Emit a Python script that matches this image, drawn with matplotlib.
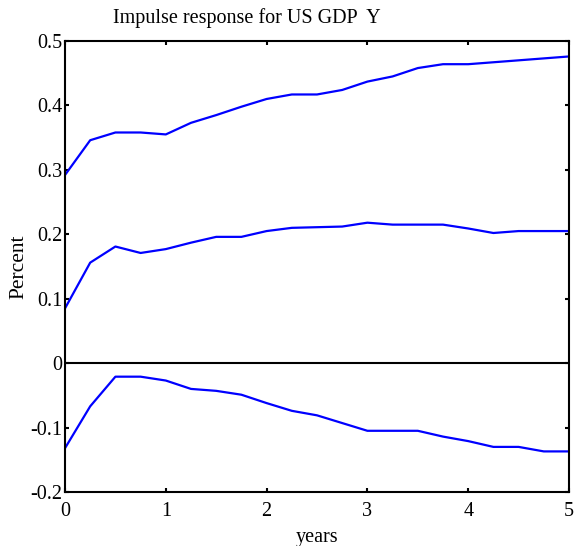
import numpy as np
import matplotlib
matplotlib.use("Agg")
import matplotlib.pyplot as plt

plt.rcParams['font.family'] = ['Liberation Serif', 'DejaVu Serif']
plt.rcParams['axes.unicode_minus'] = False

# quarterly horizon, years
years = [0, 0.25, 0.5, 0.75, 1, 1.25, 1.5, 1.75, 2, 2.25, 2.5,
         2.75, 3, 3.25, 3.5, 3.75, 4, 4.25, 4.5, 4.75, 5]

# upper band, point estimate, lower band
upper = [0.292, 0.346, 0.358, 0.358, 0.355, 0.373, 0.385, 0.398, 0.410, 0.417, 0.417,
         0.424, 0.437, 0.445, 0.458, 0.464, 0.464, 0.467, 0.470, 0.473, 0.476]
resp = [0.085, 0.156, 0.181, 0.171, 0.177, 0.187, 0.196, 0.196, 0.205, 0.210, 0.211,
        0.212, 0.218, 0.215, 0.215, 0.215, 0.209, 0.202, 0.205, 0.205, 0.205]
lower = [-0.132, -0.067, -0.021, -0.021, -0.027, -0.040, -0.043, -0.049, -0.062, -0.074, -0.081,
         -0.093, -0.105, -0.105, -0.105, -0.114, -0.121, -0.130, -0.130, -0.137, -0.137]

xticks = [0, 1, 2, 3, 4, 5]
yticks = [-0.2, -0.1, 0, 0.1, 0.2, 0.3, 0.4, 0.5]
ylabels = ['-0.2', '-0.1', '0', '0.1', '0.2', '0.3', '0.4', '0.5']

FS = 14.5

fig = plt.figure(figsize=(5.82, 5.46), dpi=100)
ax = fig.add_axes([65/582, 54/546, 504/582, 451/546])

for s in (upper, resp, lower):
    ax.plot(years, s, color='#0000ff', lw=1.6)
ax.axhline(0, color='black', lw=1.5)

ax.set_xlim(0, 5)
ax.set_ylim(-0.2, 0.5)
ax.set_xticks(xticks)
ax.set_xticklabels([str(t) for t in xticks])
ax.set_yticks(yticks)
ax.set_yticklabels(ylabels)
ax.tick_params(direction='in', length=3, width=1.5, top=True, right=True,
               labelsize=FS, colors='black')
ax.tick_params(axis='x', pad=7)
ax.tick_params(axis='y', pad=2)
for sp in ax.spines.values():
    sp.set_linewidth(1.5)

ax.set_xlabel('years', fontsize=FS, labelpad=5)
ax.set_ylabel('Percent', fontsize=15.5, labelpad=1)
fig.text(113/582, 1 - 18/546, 'Impulse response for US GDP  Y', fontsize=FS,
         ha='left', va='center')

fig.savefig('out.png', dpi=100)
